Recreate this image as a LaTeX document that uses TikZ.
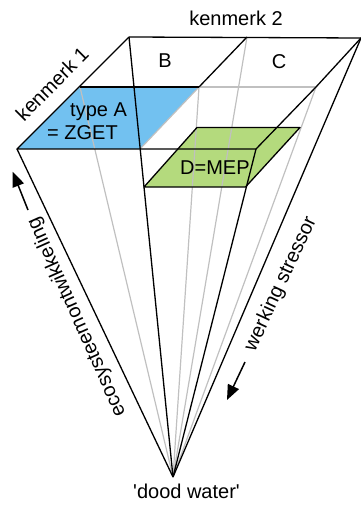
\documentclass[tikz,border=0pt]{standalone}
\usepackage{fontspec}
\setmainfont{Liberation Sans}
\usetikzlibrary{arrows.meta}
\definecolor{fillblue}{RGB}{114,193,240}
\definecolor{fillgreen}{RGB}{180,218,125}
\definecolor{linegray}{RGB}{192,192,192}
\begin{document}
\begin{tikzpicture}[x=1pt,y=-1pt,
  blk/.style={line width=1.3pt, black, line join=round},
  gry/.style={line width=1.2pt, linegray},
  lbl/.style={font=\fontsize{20}{24}\selectfont, inner sep=0pt},
  arr/.style={line width=1.5pt, black, -{Triangle[length=15pt,width=12pt]}}]
\useasboundingbox (0,0) rectangle (360,505);
% grid points of top face
\coordinate (BL) at (129,37);
\coordinate (BM) at (247,37);
\coordinate (BR) at (361,38);
\coordinate (ML) at (80,87);
\coordinate (MM) at (199,87);
\coordinate (MR) at (316,87);
\coordinate (FL) at (17,149);
\coordinate (FM) at (140,149);
\coordinate (FR) at (256,149);
\coordinate (apex) at (173,477);
% green cross-section
\coordinate (G1) at (197,127.5);
\coordinate (G2) at (300,127.5);
\coordinate (G3) at (245.5,187);
\coordinate (G4) at (144,187);
% fills
\fill[fillblue] (ML) -- (MM) -- (FM) -- (FL) -- cycle;
\fill[fillgreen] (G1) -- (G2) -- (G3) -- (G4) -- cycle;
% gray lines
\draw[gry] (MM) -- (FM);
\draw[gry] (MM) -- (MR);
\draw[gry] (ML) -- (apex);
\draw[gry] (MM) -- (apex);
\draw[gry] (BM) -- (apex);
\draw[gry] (MR) -- (apex);
% black lines
\draw[blk] (BL) -- (BR);
\draw[blk] (BL) -- (FL) -- (FR) -- (MR) -- (BR);
\draw[blk] (ML) -- (MM);
\draw[blk] (BM) -- (MM);
\draw[blk] (G1) -- (G2) -- (G3) -- (G4) -- cycle;
\draw[blk] (BL) -- (apex);
\draw[blk] (FL) -- (apex);
\draw[blk] (FR) -- (apex);
\draw[blk] (BR) -- (apex);
% labels
\node[lbl, anchor=base] (k2) at (236,26) {kenmerk 2};
\node[lbl, anchor=base] (lB) at (165,68) {B};
\node[lbl, anchor=base] (lC) at (279,69) {C};
\node[lbl, rotate=45] (k1) at (52,84) {kenmerk 1};
\node[lbl, anchor=base west] (tA) at (70,117) {type A};
\node[lbl, anchor=base west] (zg) at (47,140) {= ZGET};
\node[lbl, anchor=base west] (dm) at (180,175) {D=MEP};
\node[lbl, anchor=base west] (dw) at (133,498) {\textquotesingle dood water\textquotesingle};
\node[lbl, rotate=114] (eco) at (77,317) {ecosysteemontwikkeling};
\node[lbl, rotate=65] (ws) at (281,284) {werking stressor};
% arrows
\coordinate (a1s) at (28,210);
\coordinate (a1e) at (12.7,171.7);
\draw[arr] (a1s) -- (a1e);
\coordinate (a2s) at (245,362);
\coordinate (a2e) at (227,400);
\draw[arr] (a2s) -- (a2e);
\end{tikzpicture}
\end{document}
